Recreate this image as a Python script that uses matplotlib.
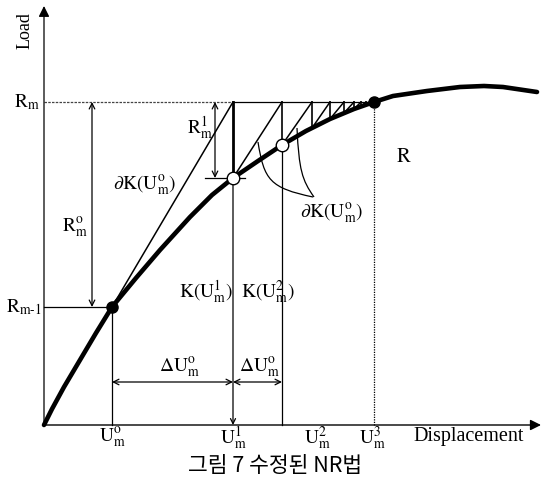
import matplotlib
matplotlib.use("Agg")
import matplotlib.pyplot as plt
from matplotlib.path import Path
from matplotlib.patches import PathPatch

plt.rcParams['font.family'] = ['Liberation Serif', 'DejaVu Serif']
plt.rcParams['mathtext.fontset'] = 'stix'

# ---- data (displacement / load in diagram units) ----
curve_u = [0, 8, 20, 36, 52, 68, 92, 116, 146, 168, 189, 214, 238, 262, 286,
           310, 330, 349, 383, 416, 440, 459, 493]
curve_r = [0, 16, 38, 65, 92, 118, 147, 175, 208, 230, 247, 264, 280, 294, 306,
           316, 323, 329, 334, 338, 339, 338, 333]

R_m = 323          # target load R_m
R_m1 = 118         # previous load R_{m-1}
U_m0 = 68          # U_m^o
U_end = 330        # converged point

iter_u = [68, 189, 238, 268, 286, 300, 310, 317, 322]
iter_r = [118, 247, 280, 297, 306, 312, 316, 318.5, 320.5]

tick_pos = [68, 189, 273, 328]
tick_labels = [r'$\mathrm{U}_{\mathrm{m}}^{\mathrm{o}}$', r'$\mathrm{U}_{\mathrm{m}}^{1}$',
               r'$\mathrm{U}_{\mathrm{m}}^{2}$', r'$\mathrm{U}_{\mathrm{m}}^{3}$']

fig = plt.figure(figsize=(5.41, 4.87), dpi=100)
ax = fig.add_axes([0, 0, 1, 1])
ax.set_xlim(-44, 497)
ax.set_ylim(-62, 425)
ax.axis('off')

lw_thin = 0.9
k = 'black'

# axes with arrows
ax.annotate('', xy=(0, 419), xytext=(0, 0),
            arrowprops=dict(arrowstyle='-|>', lw=0.9, color=k, mutation_scale=16,
                            shrinkA=0, shrinkB=0))
ax.annotate('', xy=(497, 0), xytext=(0, 0),
            arrowprops=dict(arrowstyle='-|>', lw=1.0, color=k, mutation_scale=16,
                            shrinkA=0, shrinkB=0))

# horizontal load lines
ax.plot([0, iter_u[1]], [R_m, R_m], color='#444444', lw=lw_thin, ls=(0, (2, 1)))
ax.plot([iter_u[1], U_end], [R_m, R_m], color=k, lw=lw_thin)
ax.plot([0, U_m0], [R_m1, R_m1], color=k, lw=lw_thin)

# vertical lines down to the axis
ax.plot([iter_u[0], iter_u[0]], [0, iter_r[0]], color=k, lw=lw_thin)
ax.plot([iter_u[2], iter_u[2]], [0, iter_r[2]], color=k, lw=lw_thin)
ax.plot([U_end, U_end], [0, R_m], color=k, lw=lw_thin, ls=(0, (1, 1)))
ax.annotate('', xy=(iter_u[1], 0), xytext=(iter_u[1], iter_r[1]),
            arrowprops=dict(arrowstyle='->', lw=lw_thin, color=k, mutation_scale=9,
                            shrinkA=0, shrinkB=0))

# modified Newton-Raphson iterations
for i in range(len(iter_u) - 1):
    ax.plot([iter_u[i], iter_u[i + 1]], [iter_r[i], R_m], color=k, lw=lw_thin + 0.2)
    ax.plot([iter_u[i + 1], iter_u[i + 1]], [R_m, iter_r[i + 1]], color=k,
            lw=2.0 if i == 0 else lw_thin + 0.3)

# load-displacement curve
ax.plot(curve_u, curve_r, color=k, lw=3.3, solid_capstyle='round', zorder=3)

# dimension arrows
def dim(p0, p1):
    ax.annotate('', xy=p1, xytext=p0,
                arrowprops=dict(arrowstyle='<->', lw=lw_thin, color=k, mutation_scale=10,
                                shrinkA=0, shrinkB=0))

dim((48, R_m1), (48, R_m))
dim((171, iter_r[1]), (171, R_m))
ax.plot([161, 201], [iter_r[1], iter_r[1]], color=k, lw=lw_thin)
dim((iter_u[0], 43), (iter_u[1], 43))
dim((iter_u[1], 43), (iter_u[2], 43))

# leader curves
for verts in ([(214, 283), (220, 245), (226, 237), (269, 228)],
              [(253, 297), (255, 255), (258, 245), (270, 228)]):
    p = Path(verts, [Path.MOVETO, Path.CURVE4, Path.CURVE4, Path.CURVE4])
    ax.add_patch(PathPatch(p, fill=False, lw=lw_thin, color=k))

# points
ax.plot([U_m0, U_end], [R_m1, R_m], 'o', color=k, ms=8, zorder=5)
ax.plot(iter_u[1:3], iter_r[1:3], 'o', mfc='white', mec=k, mew=1.0, ms=9, zorder=5)

fs = 14
ax.text(-17, R_m, r'$\mathrm{R}_{\mathrm{m}}$', fontsize=fs, ha='center', va='center')
ax.text(-20, R_m1, r'$\mathrm{R}_{\mathrm{m}\text{-}1}$', fontsize=fs, ha='center', va='center')
ax.text(31, 197, r'$\mathrm{R}_{\mathrm{m}}^{\mathrm{o}}$', fontsize=fs, ha='center', va='center')
ax.text(156, 297, r'$\mathrm{R}_{\mathrm{m}}^{1}$', fontsize=fs, ha='center', va='center')
ax.text(101, 240, r'$\partial\mathrm{K}(\mathrm{U}_{\mathrm{m}}^{\mathrm{o}})$', fontsize=fs,
        ha='center', va='center')
ax.text(288, 212, r'$\partial\mathrm{K}(\mathrm{U}_{\mathrm{m}}^{\mathrm{o}})$', fontsize=fs,
        ha='center', va='center')
ax.text(360, 268, r'$\mathrm{R}$', fontsize=fs + 1, ha='center', va='center')
ax.text(162, 133, r'$\mathrm{K}(\mathrm{U}_{\mathrm{m}}^{1})$', fontsize=fs, ha='center', va='center')
ax.text(224, 133, r'$\mathrm{K}(\mathrm{U}_{\mathrm{m}}^{2})$', fontsize=fs, ha='center', va='center')
ax.text(136, 57, r'$\Delta\mathrm{U}_{\mathrm{m}}^{\mathrm{o}}$', fontsize=fs, ha='center', va='center')
ax.text(216, 57, r'$\Delta\mathrm{U}_{\mathrm{m}}^{\mathrm{o}}$', fontsize=fs, ha='center', va='center')

for x, lab in zip(tick_pos, tick_labels):
    ax.text(x, -13, lab, fontsize=fs, ha='center', va='center')
ax.text(425, -12, 'Displacement', fontsize=14.5, ha='center', va='center')
ax.text(-19, 394, 'Load', fontsize=13, rotation=90, ha='center', va='center')
ax.text(231, -41, '그림 7 수정된 NR법', fontsize=15.5, ha='center', va='center',
        family=['Noto Sans CJK KR', 'DejaVu Sans'])

fig.savefig('out.png', dpi=100)
